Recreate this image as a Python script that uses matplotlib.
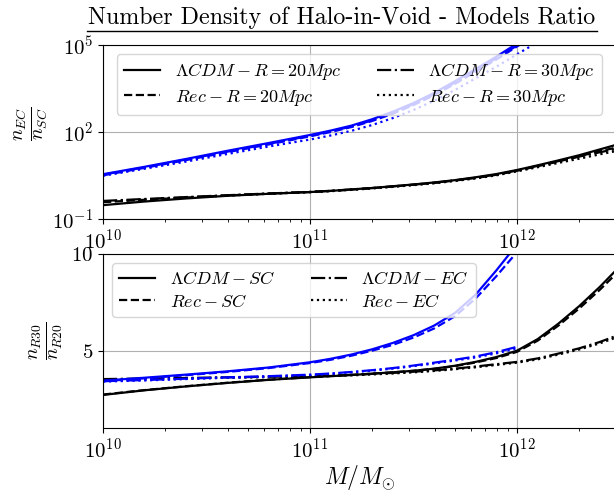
"""Number density of halo-in-void: ratio between the two models"""

import matplotlib
matplotlib.use("Agg")
import matplotlib.pyplot as plt
from matplotlib.lines import Line2D
from matplotlib.ticker import NullLocator

plt.rcParams['mathtext.fontset'] = 'cm'
plt.rcParams['font.family'] = 'serif'
plt.rcParams['font.serif'] = ['cmr10', 'DejaVu Serif']
plt.rcParams['axes.formatter.use_mathtext'] = True

# halo mass grid, log10(M/Msun)
LOGM = [10.0, 10.2, 10.4, 10.6, 10.8, 11.0, 11.1, 11.2, 11.3, 11.4, 11.5,
        11.6, 11.7, 11.8, 11.9, 12.0, 12.1, 12.2, 12.3, 12.4, 12.5]
LOGM_B = LOGM[:17]      # blue set, top panel
LOGM_B2 = LOGM[:16]     # blue set, bottom panel

# top panel: n_EC / n_SC  (black set)
LCDM_R20 = [0.30, 0.40, 0.51, 0.63, 0.74, 0.85, 0.93, 1.05, 1.17, 1.35, 1.55,
            1.82, 2.19, 2.75, 3.55, 4.9, 7.1, 10.5, 15.8, 25.1, 39.8]
REC_R20 = [0.38, 0.46, 0.55, 0.65, 0.75, 0.85, 0.93, 1.03, 1.16, 1.32, 1.52,
           1.76, 2.12, 2.6, 3.35, 4.6, 6.6, 9.6, 14.5, 22.0, 31.0]
LCDM_R30 = [0.42, 0.49, 0.57, 0.66, 0.76, 0.86, 0.94, 1.04, 1.17, 1.33, 1.53,
            1.78, 2.15, 2.65, 3.4, 4.7, 6.8, 9.9, 14.2, 20.0, 28.0]
REC_R30 = [0.40, 0.47, 0.55, 0.64, 0.74, 0.84, 0.91, 1.01, 1.13, 1.28, 1.47,
           1.7, 2.05, 2.5, 3.2, 4.4, 6.1, 8.6, 12.0, 17.0, 23.5]

# top panel: n_EC / n_SC  (blue set)
LCDM_R20_B = [3.5, 6.3, 11.7, 22.4, 41.7, 79, 112, 166, 275, 501, 1000, 2240,
              5620, 14800, 39800, 112000, 316000]
REC_R20_B = [3.2, 5.8, 10.7, 20.0, 37.2, 70.8, 100, 148, 240, 427, 851, 1860,
             4570, 12000, 31600, 89100, 251000]
LCDM_R30_B = [3.4, 6.0, 11.2, 20.9, 38.9, 74.1, 105, 155, 251, 457, 912, 2000,
              5010, 13200, 34700, 95500, 263000]
REC_R30_B = [3.1, 5.4, 9.5, 17.4, 31.6, 55.0, 75.9, 110, 174, 302, 575, 1200,
             2820, 7080, 17800, 47900, 126000]

# bottom panel: n_R30 / n_R20  (black set)
LCDM_SC = [2.71, 2.95, 3.15, 3.33, 3.49, 3.62, 3.68, 3.74, 3.81, 3.88, 3.96,
           4.07, 4.22, 4.42, 4.67, 5.0, 5.6, 6.4, 7.3, 8.3, 9.4]
REC_SC = [2.73, 2.96, 3.16, 3.34, 3.50, 3.63, 3.69, 3.75, 3.81, 3.88, 3.96,
          4.06, 4.2, 4.39, 4.62, 4.94, 5.52, 6.3, 7.18, 8.15, 9.2]
LCDM_EC = [3.53, 3.56, 3.59, 3.62, 3.65, 3.68, 3.71, 3.75, 3.80, 3.85, 3.91,
           3.98, 4.07, 4.18, 4.30, 4.42, 4.6, 4.85, 5.12, 5.45, 5.85]
REC_EC = [3.50, 3.54, 3.57, 3.60, 3.63, 3.66, 3.69, 3.72, 3.77, 3.82, 3.88,
          3.95, 4.04, 4.14, 4.26, 4.38, 4.55, 4.8, 5.06, 5.38, 5.76]

# bottom panel: n_R30 / n_R20  (blue set)
LCDM_SC_B = [3.45, 3.60, 3.76, 3.93, 4.13, 4.40, 4.58, 4.80, 5.07, 5.40, 5.8,
             6.3, 6.95, 7.9, 9.15, 10.5]
REC_SC_B = [3.42, 3.57, 3.73, 3.90, 4.10, 4.36, 4.53, 4.74, 5.0, 5.3, 5.68,
            6.15, 6.78, 7.7, 8.85, 10.1]
LCDM_EC_B = [3.42, 3.48, 3.55, 3.62, 3.68, 3.76, 3.82, 3.90, 3.99, 4.10, 4.23,
             4.38, 4.53, 4.70, 4.92, 5.2]
REC_EC_B = [3.40, 3.46, 3.53, 3.60, 3.66, 3.74, 3.80, 3.88, 3.97, 4.07, 4.20,
            4.34, 4.49, 4.65, 4.86, 5.12]

TOP_LABELS = [r'$\Lambda CDM - R = 20Mpc$', r'$Rec - R = 20Mpc$',
              r'$\Lambda CDM - R = 30Mpc$', r'$Rec - R = 30Mpc$']
BOT_LABELS = [r'$\Lambda CDM - SC$', r'$Rec - SC$',
              r'$\Lambda CDM - EC$', r'$Rec - EC$']
STYLES = ['-', '--', '-.', ':']
LW = 1.6

M = [10 ** v for v in LOGM]
MB = [10 ** v for v in LOGM_B]
MB2 = [10 ** v for v in LOGM_B2]

fig = plt.figure(figsize=(6.14, 4.94), dpi=100)
W, H = 614.0, 494.0
ax1 = fig.add_axes([103 / W, 1 - 219 / H, 512.8 / W, 174 / H])
ax2 = fig.add_axes([103 / W, 1 - 428 / H, 512.8 / W, 174 / H])

for ys, st, lab in zip([LCDM_R20, REC_R20, LCDM_R30, REC_R30], STYLES, TOP_LABELS):
    ax1.plot(M, ys, color='black', ls=st, lw=LW, label=lab)
for ys, st in zip([LCDM_R20_B, REC_R20_B, LCDM_R30_B, REC_R30_B], STYLES):
    ax1.plot(MB, ys, color='blue', ls=st, lw=LW)

for ys, st, lab in zip([LCDM_SC, REC_SC, LCDM_EC, REC_EC], STYLES, BOT_LABELS):
    ax2.plot(M, ys, color='black', ls=st, lw=LW, label=lab)
for ys, st in zip([LCDM_SC_B, REC_SC_B, LCDM_EC_B, REC_EC_B], STYLES):
    ax2.plot(MB2, ys, color='blue', ls=st, lw=LW)

for ax in (ax1, ax2):
    ax.set_xscale('log')
    ax.set_xlim(1e10, 3e12)
    ax.grid(True, which='major', color='#b0b0b0', lw=0.8)
    ax.tick_params(labelsize=15)

ax1.set_yscale('log')
ax1.set_ylim(1e-1, 1e5)
ax1.set_yticks([1e-1, 1e2, 1e5])
ax1.yaxis.set_minor_locator(NullLocator())
ax2.set_ylim(1, 10)
ax2.set_yticks([5, 10])

ax1.set_ylabel(r'$\frac{n_{EC}}{n_{SC}}$', fontsize=20)
ax1.yaxis.set_label_coords(-0.103, 0.55)
ax2.set_ylabel(r'$\frac{n_{R30}}{n_{R20}}$', fontsize=20)
ax2.yaxis.set_label_coords(-0.074, 0.5)
ax2.set_xlabel(r'$M/M_{\odot}$', fontsize=17, labelpad=1)

ax1.legend(loc='upper center', ncol=2, fontsize=13, labelspacing=0.3)
ax2.legend(loc='upper left', ncol=2, fontsize=13, labelspacing=0.3)

fig.text(342 / W, 1 - 24 / H, 'Number Density of Halo-in-Void - Models Ratio',
         ha='center', va='baseline', fontsize=17.3)
fig.add_artist(Line2D([87 / W, 597 / W], [1 - 31 / H, 1 - 31 / H],
                      color='black', lw=1.0, transform=fig.transFigure))

fig.savefig('out.png', dpi=100)
